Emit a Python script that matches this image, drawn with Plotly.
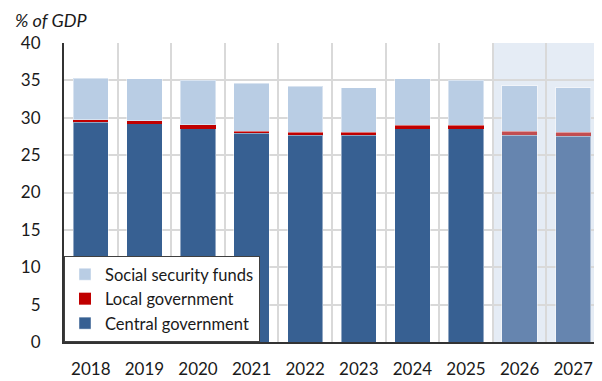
import plotly.graph_objects as go

years = ["2018", "2019", "2020", "2021", "2022", "2023", "2024", "2025", "2026", "2027"]
central = [29.4, 29.2, 28.5, 27.9, 27.65, 27.65, 28.5, 28.5, 27.65, 27.5]
local = [0.35, 0.4, 0.55, 0.3, 0.4, 0.4, 0.5, 0.5, 0.55, 0.55]
social = [5.55, 5.6, 5.95, 6.4, 6.15, 5.95, 6.2, 6.0, 6.1, 5.95]
forecast = [False] * 8 + [True] * 2

FONT = "Lato"
xs = list(range(len(years)))

c_central = ["#6685AF" if f else "#376092" for f in forecast]
c_local = ["#C24D50" if f else "#C00000" for f in forecast]
c_social = ["#B9CDE4" for f in forecast]

fig = go.Figure()
line = dict(color="rgba(255,255,255,0.45)", width=1)
fig.add_trace(go.Bar(x=xs, y=central, name="Central government", marker=dict(color=c_central, line=line), width=0.66))
fig.add_trace(go.Bar(x=xs, y=local, name="Local government", marker=dict(color=c_local, line=dict(width=0)), width=0.66))
fig.add_trace(go.Bar(x=xs, y=social, name="Social security funds", marker=dict(color=c_social, line=line), width=0.66))

first_fc = forecast.index(True)
fig.add_shape(type="rect", xref="x", yref="paper", x0=first_fc - 0.5, x1=len(years) - 0.5,
              y0=0, y1=1, fillcolor="#E5ECF5", line=dict(width=0), layer="below")

fig.update_layout(
    width=594, height=373,
    margin=dict(l=56, r=2, t=35, b=33),
    barmode="stack",
    bargap=0.34,
    plot_bgcolor="white", paper_bgcolor="white",
    font=dict(family=FONT, size=17, color="#1a1a1a"),
    showlegend=True,
    legend=dict(x=0, y=0, xanchor="left", yanchor="bottom", traceorder="reversed",
                bgcolor="white", bordercolor="#404040", borderwidth=1,
                font=dict(family=FONT, size=16.5, color="#1a1a1a"),
                tracegroupgap=0, itemwidth=30),
    xaxis=dict(range=[-0.5, len(years) - 0.5], tickmode="array", tickvals=xs, ticktext=years,
               showgrid=False, zeroline=False, showline=True, linecolor="#333333", linewidth=2,
               ticks="", ticklabelstandoff=11, tickfont=dict(size=17),
               minor=dict(tickmode="array", tickvals=[i + 0.5 for i in xs[:-1]], showgrid=True,
                          gridcolor="#D9D9D9", gridwidth=2, ticks="")),
    yaxis=dict(range=[0, 40], dtick=5, showgrid=True, gridcolor="#D9D9D9", gridwidth=2,
               zeroline=False, showline=True, linecolor="#333333", linewidth=2,
               ticks="", ticklabelstandoff=18, tickfont=dict(size=17)),
    annotations=[dict(text="<i>% of GDP</i>", xref="paper", yref="paper", x=-0.095, y=1.0785,
                      xanchor="left", yanchor="middle", showarrow=False,
                      font=dict(family=FONT, size=18, color="#1a1a1a"))],
)

fig.write_html("out.html")
